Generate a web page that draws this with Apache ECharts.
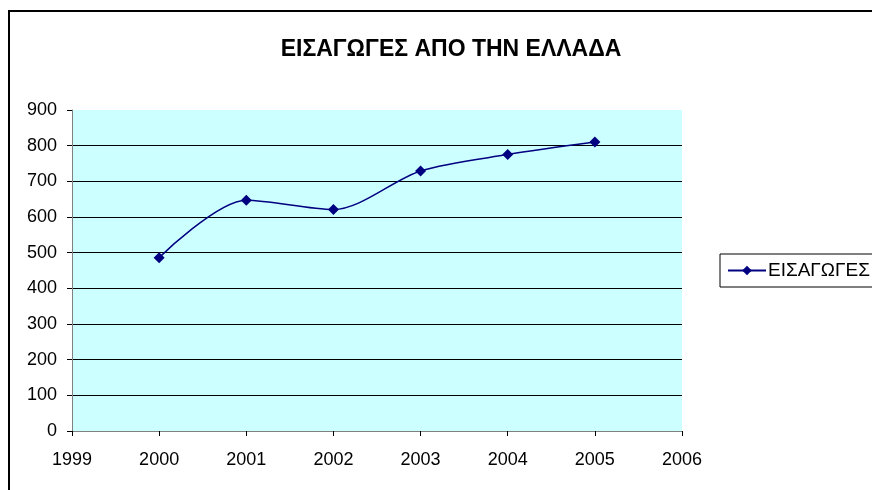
<!DOCTYPE html>
<html>
<head>
<meta charset="utf-8">
<script src="https://cdn.jsdelivr.net/npm/echarts@6/dist/echarts.min.js"></script>
<style>
  html, body { margin: 0; padding: 0; background: #fff; }
  #grafica { width: 872px; height: 490px; }
</style>
</head>
<body>
<div id="grafica"></div>
<script>
// datos
const years = [2000, 2001, 2002, 2003, 2004, 2005];
const values = [486, 647, 621, 729, 775, 810];
const seriesName = "ΕΙΣΑΓΩΓΕΣ";
const titleText = "ΕΙΣΑΓΩΓΕΣ ΑΠΟ ΤΗΝ ΕΛΛΑΔΑ";
const xMin = 1999, xMax = 2006;
const yMin = 0, yMax = 900, yStep = 100;

const font = "'Liberation Sans', Arial, sans-serif";

const option = {
  animation: false,
  backgroundColor: "#fff",
  title: {
    text: titleText,
    left: 446,
    textAlign: "center",
    top: 33,
    textStyle: { fontFamily: font, fontSize: 23, fontWeight: "bold", color: "#000" },
  },
  legend: {
    left: 720,
    top: 254,
    orient: "vertical",
    padding: [7, 10, 7, 7],
    itemWidth: 38,
    itemHeight: 12,
    borderColor: "#000",
    borderWidth: 1,
    borderRadius: 0,
    textStyle: { fontFamily: font, fontSize: 19, color: "#000", padding: [0, 0, 0, -3] },
    data: [seriesName],
  },
  grid: {
    left: 72,
    right: 872 - 682,
    top: 110,
    bottom: 490 - 431,
    show: true,
    backgroundColor: "#CCFFFF",
    borderWidth: 0,
  },
  xAxis: {
    type: "value",
    min: xMin,
    max: xMax,
    interval: 1,
    axisLine: { show: true, lineStyle: { color: "#808080", width: 1 } },
    axisTick: { show: true, length: 5, lineStyle: { color: "#000" } },
    splitLine: { show: false },
    axisLabel: {
      fontFamily: font, fontSize: 18, color: "#000", margin: 20,
      formatter: (v) => String(v),
    },
  },
  yAxis: {
    type: "value",
    min: yMin,
    max: yMax,
    interval: yStep,
    axisLine: { show: true, lineStyle: { color: "#808080", width: 1 } },
    axisTick: { show: true, length: 5, lineStyle: { color: "#000" } },
    splitLine: { show: true, showMaxLine: false, lineStyle: { color: "#000", width: 1 } },
    axisLabel: { fontFamily: font, fontSize: 18, color: "#000", margin: 15 },
  },
  series: [
    {
      name: seriesName,
      type: "line",
      smooth: 0.3,
      data: years.map((y, i) => [y, values[i]]),
      symbol: "diamond",
      symbolSize: 11,
      itemStyle: { color: "#000080" },
      lineStyle: { color: "#000080", width: 1.5 },
    },
  ],
  graphic: [
    {
      type: "rect",
      shape: { x: 9, y: 11, width: 900, height: 520 },
      style: { fill: "none", stroke: "#000", lineWidth: 2 },
      silent: true,
    },
  ],
};

const myChart = echarts.init(document.querySelector("#grafica"));
myChart.setOption(option);
</script>
</body>
</html>
